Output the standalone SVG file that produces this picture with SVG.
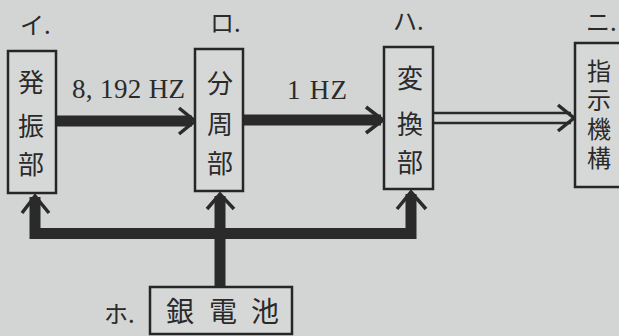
<svg xmlns="http://www.w3.org/2000/svg" width="619" height="336" viewBox="0 0 619 336">
<style>
.bg{fill:#d3d5d4}
.box{fill:#d6d8d7;stroke:#262626;stroke-width:2.5}
.cjk{font-family:"Noto Sans CJK JP","Noto Sans CJK SC",sans-serif;font-size:26px;fill:#2a2a2a;text-anchor:middle;dominant-baseline:central}
.vert{font-family:"Noto Sans CJK JP","Noto Sans CJK SC",sans-serif;font-size:24px;fill:#2a2a2a;writing-mode:vertical-rl;letter-spacing:5px}
.lbl{font-family:"Noto Sans CJK JP","Noto Sans CJK SC",sans-serif;font-size:24px;fill:#2a2a2a;dominant-baseline:central}
.hz{font-family:"Liberation Serif","Times New Roman",serif;font-size:27px;fill:#2a2a2a}
.thick{fill:none;stroke:#2a2a2a;stroke-width:11}
.chev{fill:none;stroke:#2a2a2a;stroke-width:3.5;stroke-linejoin:miter}
.thin{fill:none;stroke:#2a2a2a;stroke-width:2.5}
</style>
<rect class="bg" x="0" y="0" width="619" height="336"/>
<g id="connectors">
<line class="thick" x1="56" y1="121" x2="192" y2="121"/>
<polyline class="chev" points="179,108 195,121 179,134"/>
<line class="thick" x1="243" y1="120" x2="381" y2="120"/>
<polyline class="chev" points="366,107 383,120 366,133"/>
<line class="thin" x1="433" y1="113" x2="571" y2="113"/>
<line class="thin" x1="433" y1="123" x2="571" y2="123"/>
<polyline class="chev" points="558,105 574,118 558,131"/>
<polyline class="thick" points="35,197 35,233.5 411,233.5 411,194" stroke-linejoin="miter"/>
<line class="thick" x1="220" y1="287" x2="220" y2="196"/>
<polyline class="chev" points="22,213 35,196 49,213"/>
<polyline class="chev" points="207,209 220,194 234,209"/>
<polyline class="chev" points="397,209 411,192 426,209"/>
</g>
<g id="node-i">
<text class="lbl" x="20" y="23">イ.</text>
<rect class="box" x="8" y="51" width="48" height="142"/>
<text class="cjk" x="31" y="80">発</text>
<text class="cjk" x="31" y="124">振</text>
<text class="cjk" x="31" y="162">部</text>
</g>
<g id="node-ro">
<text class="lbl" x="210" y="21">ロ.</text>
<rect class="box" x="195" y="49" width="48" height="142"/>
<text class="cjk" x="220" y="81">分</text>
<text class="cjk" x="220" y="122">周</text>
<text class="cjk" x="220" y="161">部</text>
</g>
<g id="node-ha">
<text class="lbl" x="393" y="19">ハ.</text>
<rect class="box" x="384" y="47" width="49" height="142"/>
<text class="cjk" x="410" y="76">変</text>
<text class="cjk" x="410" y="122">換</text>
<text class="cjk" x="410" y="160">部</text>
</g>
<g id="node-ni">
<text class="lbl" x="586" y="20">ニ.</text>
<rect class="box" x="575" y="43" width="52" height="144"/>
<text class="vert" x="599" y="59">指示機構</text>
</g>
<g id="node-ho">
<text class="lbl" x="104" y="312">ホ.</text>
<rect class="box" x="150" y="287" width="142" height="47"/>
<text class="cjk" x="180" y="310" style="font-size:28px">銀</text>
<text class="cjk" x="223" y="310" style="font-size:28px">電</text>
<text class="cjk" x="265" y="310" style="font-size:28px">池</text>
</g>
<g id="labels">
<text class="hz" x="72" y="98" textLength="113" lengthAdjust="spacing">8, 192 HZ</text>
<text class="hz" x="287" y="99" textLength="60" lengthAdjust="spacing">1 HZ</text>
</g>
</svg>
